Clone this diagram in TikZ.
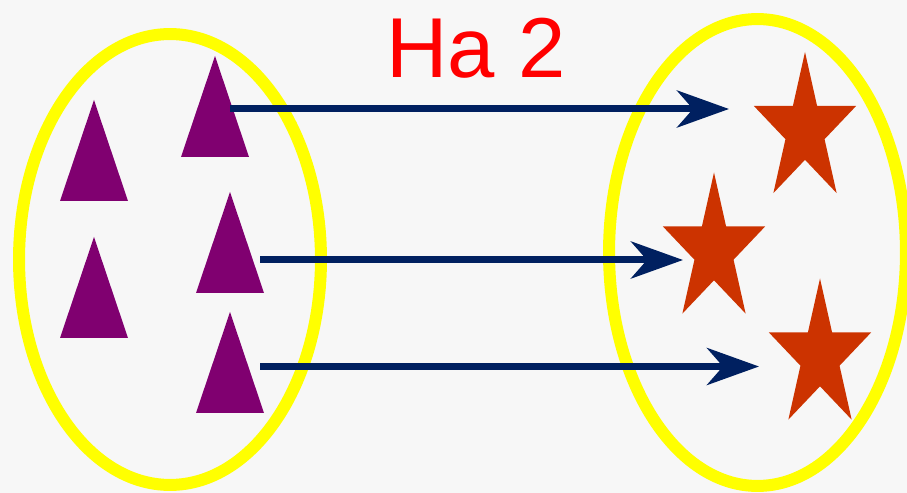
\documentclass[tikz,border=0pt]{standalone}
\usepackage{fontspec}
\setmainfont{Liberation Sans}
\usetikzlibrary{arrows.meta}
\definecolor{setyellow}{HTML}{FFFF00}
\definecolor{tripurple}{HTML}{800070}
\definecolor{starred}{HTML}{CC3300}
\definecolor{mapnavy}{HTML}{002060}
\definecolor{titlered}{HTML}{FF0000}

\begin{document}
\begin{tikzpicture}[x=0.02cm,y=-0.02cm,
    setline/.style={setyellow,line width=0.24cm},
    mapto/.style={mapnavy,line width=0.14cm,-{Stealth[length=1.04cm,width=0.74cm,inset=0.32cm]}}]
    % Background
    \fill[black!3] (0,0) rectangle (907,493);
    \useasboundingbox (0,0) rectangle (907,493);

    % Sets
    \draw[setline] (170,259.5) ellipse [x radius=3.02cm,y radius=4.51cm];
    \draw[setline] (757.5,252.5) ellipse [x radius=2.97cm,y radius=4.67cm];

    % Triangles
    \foreach \x/\y in {94/100,215/56,230/192,94/237,230/312}
        \fill[tripurple] (\x,\y) -- ++(34,101) -- ++(-68,0) -- cycle;

    % Stars
    \foreach \cx/\cy in {805/130,714/250.5,820/356.5}
        \fill[starred,shift={(\cx,\cy)},xscale=0.69] (-90:78)
            \foreach \a in {1,...,9} { -- ({-90+36*\a}:{ifthenelse(mod(\a,2)==0,78,29.8)}) } -- cycle;

    % Mapping
    \coordinate (from1) at (230,109);   \coordinate (to1) at (729,109);
    \coordinate (from2) at (260,260);   \coordinate (to2) at (683,260);
    \coordinate (from3) at (260,366.5); \coordinate (to3) at (759,366.5);
    \foreach \i in {1,2,3} \draw[mapto] (from\i) -- (to\i);

    \node[titlered,font=\fontsize{48.4}{58}\selectfont,anchor=base,inner sep=0pt] (title) at (476,78) {На 2};
\end{tikzpicture}
\end{document}
